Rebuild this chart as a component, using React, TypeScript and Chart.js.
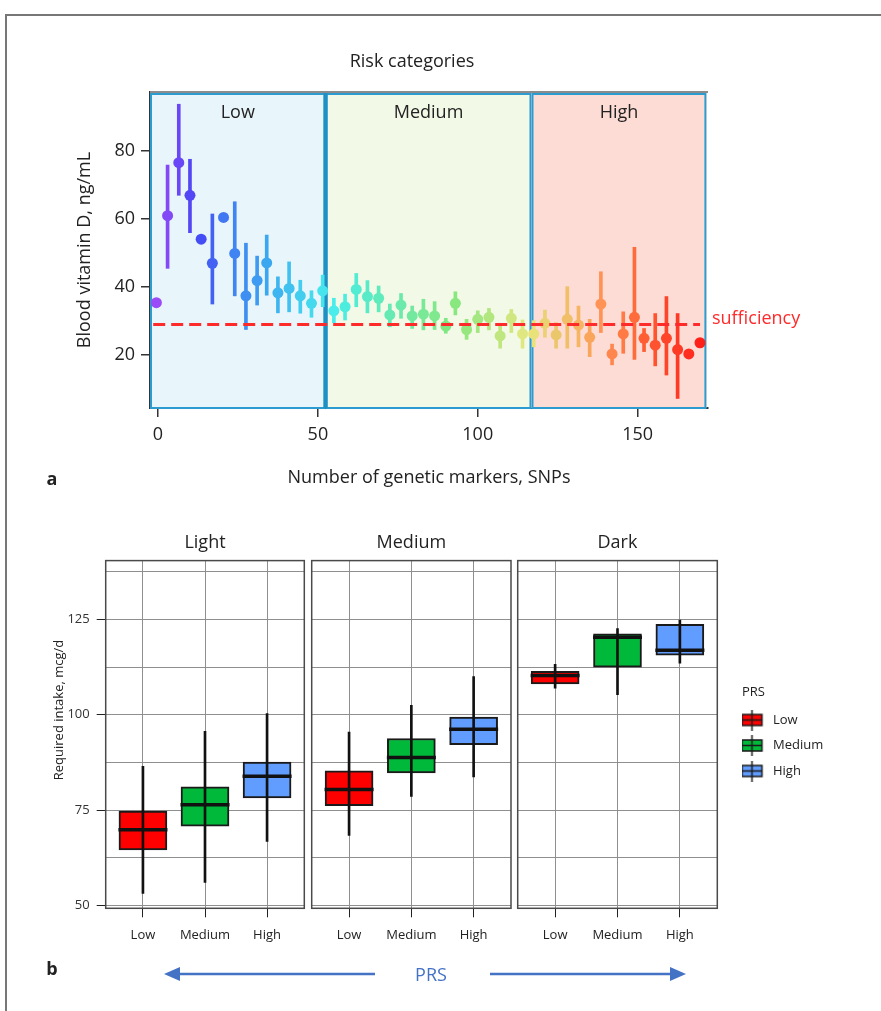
import React, { useEffect, useRef } from "react";
import { Chart, registerables } from "chart.js";
Chart.register(...registerables);

const FONT = "'Open Sans', 'Noto Sans', 'DejaVu Sans', sans-serif";
const TEXT = "#222222";

// ---------------- Panel a data ----------------
const SNP_COUNT = [
  -0.5, 3, 6.5, 10, 13.5, 17, 20.5, 24, 27.5, 31, 34, 37.5, 41, 44.5, 48, 51.5, 55, 58.5, 62, 65.5,
  69, 72.5, 76, 79.5, 83, 86.5, 90, 93, 96.5, 100, 103.5, 107, 110.5, 114, 117.5, 121, 124.5, 128,
  131.5, 135, 138.5, 142, 145.5, 149, 152, 155.5, 159, 162.5, 166, 169.5,
];
const VITD_MEAN = [
  35.4, 61.0, 76.6, 67.0, 54.1, 47.0, 60.5, 49.9, 37.4, 41.9, 47.1, 38.3, 39.6, 37.4, 35.2, 38.9,
  33.0, 34.2, 39.3, 37.2, 36.7, 31.8, 34.7, 31.5, 32.0, 31.5, 28.5, 35.2, 27.5, 30.5, 31.1, 25.6,
  30.8, 26.2, 26.2, 29.3, 25.9, 30.5, 28.8, 25.2, 35.0, 20.3, 26.2, 31.1, 24.9, 22.9, 24.9, 21.6,
  20.3, 23.6,
];
const VITD_LOW: (number | null)[] = [
  null, 45.5, 67.0, 56.0, null, 35.0, null, 37.4, 27.5, 34.7, 37.6, 32.4, 32.7, 32.3, 31.1, 34.2,
  29.5, 30.3, 34.2, 32.4, 32.7, 28.3, 30.8, 27.8, 27.4, 27.5, 26.4, 31.8, 24.6, 26.6, 27.4, 22.0,
  26.6, 22.0, 22.4, 25.2, 22.0, 22.0, 22.4, 19.5, 26.6, 17.1, 20.5, 18.7, 21.0, 16.8, 14.1, 7.2,
  null, null,
];
const VITD_HIGH: (number | null)[] = [
  null, 75.9, 93.8, 77.6, null, 61.5, null, 65.1, 52.9, 49.1, 55.3, 43.0, 47.4, 42.0, 38.9, 43.5,
  36.7, 37.9, 44.0, 41.9, 40.3, 35.0, 38.1, 34.4, 36.4, 35.7, 30.8, 38.6, 30.5, 33.0, 33.7, 28.5,
  33.4, 30.3, 30.1, 33.2, 29.5, 40.1, 34.4, 30.5, 44.5, 23.2, 32.7, 51.7, 27.8, 32.2, 37.2, 32.2,
  null, null,
];
const X_TICKS_A = [0, 50, 100, 150];
const Y_TICKS_A = [20, 40, 60, 80];
const SUFFICIENCY = 29;
const SUFF_SPAN = [-1.5, 169.5];
const RISK_NAMES = ["Low", "Medium", "High"];
const RISK_START = [-2.5, 52.4, 116.8];
const RISK_END = [52.4, 116.8, 171.5];

// ---------------- Panel b data ----------------
const SKIN = ["Light", "Medium", "Dark"];
const PRS = ["Low", "Medium", "High"];
const PRS_POS = [1, 2, 3];
const LIGHT_MIN = [53.2, 56.1, 66.8];
const LIGHT_Q1 = [64.6, 70.8, 78.2];
const LIGHT_MED = [69.9, 76.4, 83.9];
const LIGHT_Q3 = [74.8, 81.1, 87.6];
const LIGHT_MAX = [86.5, 95.7, 100.3];
const MEDIUM_MIN = [68.4, 78.6, 83.7];
const MEDIUM_Q1 = [76.2, 84.8, 92.2];
const MEDIUM_MED = [80.4, 88.8, 96.2];
const MEDIUM_Q3 = [85.3, 93.8, 99.4];
const MEDIUM_MAX = [95.5, 102.5, 110.0];
const DARK_MIN = [107.0, 105.3, 113.5];
const DARK_Q1 = [108.1, 112.5, 115.6];
const DARK_MED = [110.3, 120.3, 116.9];
const DARK_Q3 = [111.4, 121.2, 123.7];
const DARK_MAX = [113.2, 122.6, 124.8];
const B_Y_GRID = [50, 62.5, 75, 87.5, 100, 112.5, 125, 137.5];
const B_Y_LABELS = [50, 75, 100, 125];

// ---------------- styles ----------------
const PRS_COLORS = ["#ff0000", "#00b93a", "#619cff"];
const RISK_FILL = ["#e8f6fb", "#f2f9e6", "#fcdcd4"];
const RISK_BORDER = "#2c9bd0";
const HUE_IDX = [0, 2, 6, 12, 17, 22, 26, 31, 35, 38, 40, 43, 46, 49];
const HUE_VAL = [268, 252, 222, 196, 175, 150, 122, 82, 48, 34, 22, 15, 8, 2];
const SAT_IDX = [0, 10, 17, 25, 33, 38, 44, 49];
const SAT_VAL = [0.7, 0.75, 0.68, 0.45, 0.45, 0.6, 0.8, 0.9];
const VAL_IDX = [0, 20, 30, 36, 40, 49];
const VAL_VAL = [0.97, 0.92, 0.9, 0.92, 1, 1];

function interp(idx: number[], vals: number[], i: number) {
  if (i <= idx[0]) return vals[0];
  for (let k = 1; k < idx.length; k++) {
    if (i <= idx[k]) {
      const t = (i - idx[k - 1]) / (idx[k] - idx[k - 1]);
      return vals[k - 1] + t * (vals[k] - vals[k - 1]);
    }
  }
  return vals[vals.length - 1];
}
function hsv(h: number, s: number, v: number) {
  const f = (n: number) => {
    const k = (n + h / 60) % 6;
    return v - v * s * Math.max(0, Math.min(k, 4 - k, 1));
  };
  return [f(5), f(3), f(1)].map((c) => Math.round(c * 255));
}
function pointColor(i: number) {
  const [r, g, b] = hsv(interp(HUE_IDX, HUE_VAL, i), interp(SAT_IDX, SAT_VAL, i), interp(VAL_IDX, VAL_VAL, i));
  return `rgb(${r},${g},${b})`;
}

function useChart(ref: React.RefObject<HTMLCanvasElement | null>, make: () => any) {
  useEffect(() => {
    const chart = new Chart(ref.current as HTMLCanvasElement, make());
    return () => chart.destroy();
  }, []);
}

// ---------------- Panel a ----------------
const riskPlugin = {
  id: "riskRegions",
  beforeDatasetsDraw(chart: any) {
    const { ctx, chartArea: a, scales } = chart;
    const x = scales.x;
    ctx.save();
    RISK_NAMES.forEach((name, i) => {
      const x0 = Math.max(a.left, x.getPixelForValue(RISK_START[i]));
      const x1 = Math.min(a.right, x.getPixelForValue(RISK_END[i]));
      ctx.fillStyle = RISK_FILL[i];
      ctx.fillRect(x0, a.top, x1 - x0, a.bottom - a.top);
      ctx.strokeStyle = RISK_BORDER;
      ctx.lineWidth = 2;
      ctx.strokeRect(x0 + 1, a.top + 2, x1 - x0 - 2, a.bottom - a.top - 2);
      ctx.fillStyle = TEXT;
      ctx.font = `18px ${FONT}`;
      ctx.textAlign = "center";
      ctx.textBaseline = "middle";
      ctx.fillText(name, (x0 + x1) / 2, a.top + 21);
    });
    const xd = x.getPixelForValue(RISK_END[0]);
    ctx.strokeStyle = "#1e90c4";
    ctx.lineWidth = 4;
    ctx.beginPath();
    ctx.moveTo(xd, a.top);
    ctx.lineTo(xd, a.bottom);
    ctx.stroke();
    ctx.strokeStyle = "#8c8c8c";
    ctx.lineWidth = 2;
    ctx.beginPath();
    ctx.moveTo(a.left, a.top);
    ctx.lineTo(a.right, a.top);
    ctx.stroke();
    ctx.restore();
  },
  afterDatasetsDraw(chart: any) {
    const { ctx, chartArea: a, scales } = chart;
    ctx.save();
    ctx.fillStyle = "#ff2a2a";
    ctx.font = `18px ${FONT}`;
    ctx.textAlign = "left";
    ctx.textBaseline = "middle";
    ctx.fillText("sufficiency", a.right + 4, scales.y.getPixelForValue(SUFFICIENCY) - 6);
    ctx.restore();
  },
};

function PanelA() {
  const ref = useRef<HTMLCanvasElement>(null);
  useChart(ref, () => {
    const colors = SNP_COUNT.map((_, i) => pointColor(i));
    const barIdx = SNP_COUNT.map((_, i) => i).filter((i) => VITD_LOW[i] != null);
    return {
      type: "scatter",
      data: {
        datasets: [
          {
            type: "line",
            data: SUFF_SPAN.map((x) => ({ x, y: SUFFICIENCY })),
            borderColor: "#ff2a2a",
            borderWidth: 3,
            borderDash: [12, 6],
            pointRadius: 0,
            order: 0,
          },
          {
            type: "scatter",
            data: SNP_COUNT.map((x, i) => ({ x, y: VITD_MEAN[i] })),
            pointBackgroundColor: colors,
            pointBorderWidth: 0,
            pointRadius: 5.5,
            order: 1,
          },
          {
            type: "bar",
            data: barIdx.map((i) => ({ x: SNP_COUNT[i], y: [VITD_LOW[i], VITD_HIGH[i]] })),
            backgroundColor: barIdx.map((i) => colors[i]),
            barThickness: 3,
            grouped: false,
            order: 2,
          },
        ],
      },
      options: {
        responsive: false,
        animation: false,
        layout: { autoPadding: false, padding: { top: 51, left: 0, right: 0, bottom: 0 } },
        plugins: {
          legend: { display: false },
          tooltip: { enabled: false },
          title: {
            display: true,
            text: "Risk categories",
            color: TEXT,
            font: { family: FONT, size: 18, weight: "normal" },
            padding: { top: 0, bottom: 19.4 },
          },
        },
        scales: {
          x: {
            type: "linear",
            min: -2.5,
            max: 172,
            offset: false,
            z: 1,
            afterBuildTicks: (s: any) => {
              s.ticks = X_TICKS_A.map((v) => ({ value: v }));
            },
            afterFit: (s: any) => {
              s.height = 92;
              s.paddingLeft = 0;
              s.paddingRight = 0;
            },
            ticks: { color: TEXT, font: { family: FONT, size: 18 }, padding: 7 },
            grid: { drawOnChartArea: false, tickLength: 9, color: "#333", lineWidth: 1.5, offset: false },
            border: { color: "#333", width: 2 },
            title: {
              display: true,
              text: "Number of genetic markers, SNPs",
              color: TEXT,
              font: { family: FONT, size: 18 },
              padding: { top: 10, bottom: 11 },
            },
          },
          y: {
            type: "linear",
            min: 4.4,
            max: 97.4,
            z: 1,
            afterBuildTicks: (s: any) => {
              s.ticks = Y_TICKS_A.map((v) => ({ value: v }));
            },
            afterFit: (s: any) => {
              s.width = 150;
            },
            ticks: { color: TEXT, font: { family: FONT, size: 18 }, padding: 6 },
            grid: { drawOnChartArea: false, tickLength: 9, color: "#333", lineWidth: 1.5 },
            border: { color: "#333", width: 2 },
            title: {
              display: true,
              text: "Blood vitamin D, ng/mL",
              color: TEXT,
              font: { family: FONT, size: 18 },
              padding: { top: 74, bottom: 0 },
            },
          },
          gutter: {
            type: "linear",
            position: "right",
            display: true,
            min: 0,
            max: 1,
            ticks: { display: false },
            grid: { display: false },
            border: { display: false },
            afterFit: (s: any) => {
              s.width = 116;
            },
          },
        },
      },
      plugins: [riskPlugin],
    };
  });
  return <canvas ref={ref} width={824} height={500} style={{ position: "absolute", left: 0, top: 0 }} />;
}

// ---------------- Panel b ----------------
const framePlugin = {
  id: "panelFrame",
  afterDraw(chart: any) {
    const { ctx, chartArea: a } = chart;
    ctx.save();
    ctx.strokeStyle = "#4a4a4a";
    ctx.lineWidth = 1.5;
    ctx.strokeRect(a.left, a.top, a.right - a.left, a.bottom - a.top);
    ctx.restore();
  },
};

function legendIcon(color: string) {
  const c = document.createElement("canvas");
  c.width = 40;
  c.height = 21;
  const g = c.getContext("2d") as CanvasRenderingContext2D;
  const x0 = 1.5;
  g.fillStyle = color;
  g.fillRect(x0, 5, 20, 11);
  g.strokeStyle = "#1a1a1a";
  g.lineWidth = 1.5;
  g.strokeRect(x0, 5, 20, 11);
  g.beginPath();
  g.moveTo(x0, 10.5);
  g.lineTo(x0 + 20, 10.5);
  g.moveTo(x0 + 10, 0);
  g.lineTo(x0 + 10, 21);
  g.stroke();
  return c;
}

type PanelProps = {
  index: number;
  left: number;
  width: number;
  pad: { left: number; right: number };
  yWidth: number;
  lo: number[];
  q1: number[];
  med: number[];
  q3: number[];
  hi: number[];
};

function BoxPanel(p: PanelProps) {
  const ref = useRef<HTMLCanvasElement>(null);
  const showY = p.index === 0;
  const showLegend = p.index === 2;
  useChart(ref, () => {
    const scales: any = {
      x: {
        type: "linear",
        min: 0.4,
        max: 3.6,
        offset: false,
        afterBuildTicks: (s: any) => {
          s.ticks = PRS_POS.map((v) => ({ value: v }));
        },
        afterFit: (s: any) => {
          s.height = 41.7;
          s.paddingLeft = 0;
          s.paddingRight = 0;
        },
        ticks: {
          color: TEXT,
          font: { family: FONT, size: 13 },
          padding: 10,
          callback: (_v: any, i: number) => PRS[i],
        },
        grid: { color: "#8f8f8f", lineWidth: 1, tickLength: 9, tickColor: "#222", offset: false },
        border: { display: false },
      },
      y: {
        type: "linear",
        min: 49.3,
        max: 140.4,
        afterBuildTicks: (s: any) => {
          s.ticks = B_Y_GRID.map((v) => ({ value: v }));
        },
        afterFit: (s: any) => {
          s.width = p.yWidth;
          s.paddingTop = 0;
          s.paddingBottom = 0;
        },
        ticks: {
          display: showY,
          color: "#333",
          font: { family: FONT, size: 13 },
          padding: 7,
          callback: (v: any) => (B_Y_LABELS.includes(v) ? String(v) : ""),
        },
        grid: {
          color: "#8f8f8f",
          lineWidth: 1,
          drawTicks: showY,
          tickLength: 9,
          tickColor: (c: any) => (c.tick && B_Y_LABELS.includes(c.tick.value) ? "#222" : "rgba(0,0,0,0)"),
        },
        border: { display: false },
      },
    };
    if (showLegend) {
      scales.gutter = {
        type: "linear",
        position: "right",
        display: true,
        min: 0,
        max: 1,
        ticks: { display: false },
        grid: { display: false },
        border: { display: false },
        afterFit: (s: any) => {
          s.width = 24.7;
        },
      };
    }
    return {
      type: "bar",
      data: {
        datasets: [
          {
            type: "scatter",
            data: PRS_POS.map((x, i) => ({ x, y: p.med[i] })),
            pointStyle: "line",
            pointRadius: 24.5,
            pointBorderColor: "#111",
            pointBorderWidth: 3.5,
            order: 1,
          },
          {
            type: "bar",
            data: PRS_POS.map((x, i) => ({ x, y: [p.lo[i], p.hi[i]] })),
            backgroundColor: "#111",
            barThickness: 2,
            grouped: false,
            order: 2,
          },
          {
            type: "bar",
            data: PRS_POS.map((x, i) => ({ x, y: [p.q1[i], p.q3[i]] })),
            backgroundColor: PRS_COLORS,
            borderColor: "#1a1a1a",
            borderWidth: 2,
            borderSkipped: false,
            barThickness: 48,
            grouped: false,
            order: 3,
          },
        ],
      },
      options: {
        responsive: false,
        animation: false,
        layout: { autoPadding: false, padding: { top: 32, left: p.pad.left, right: p.pad.right, bottom: 0 } },
        plugins: {
          tooltip: { enabled: false },
          title: {
            display: true,
            text: SKIN[p.index],
            fullSize: false,
            color: TEXT,
            font: { family: FONT, size: 18, weight: "normal" },
            padding: { top: 0, bottom: 7 },
          },
          legend: showLegend
            ? {
                display: true,
                position: "right",
                align: "start",
                maxWidth: 84,
                title: {
                  display: true,
                  text: "PRS",
                  position: "start",
                  color: TEXT,
                  font: { family: FONT, size: 13 },
                  padding: { top: 153.4, bottom: 0 },
                },
                labels: {
                  usePointStyle: true,
                  pointStyleWidth: 12,
                  padding: 12.5,
                  color: TEXT,
                  font: { family: FONT, size: 13 },
                  generateLabels: () =>
                    PRS.map((t, i) => ({
                      text: t,
                      pointStyle: legendIcon(PRS_COLORS[i]),
                      fillStyle: PRS_COLORS[i],
                      strokeStyle: "#111",
                      lineWidth: 0,
                      hidden: false,
                      datasetIndex: 0,
                    })),
                },
              }
            : { display: false },
        },
        scales,
      },
      plugins: [framePlugin],
    };
  });
  return (
    <canvas ref={ref} width={p.width} height={450} style={{ position: "absolute", left: p.left, top: 500 }} />
  );
}

export default function App() {
  return (
    <div
      style={{
        position: "absolute",
        left: 0,
        top: 0,
        width: 881,
        height: 1011,
        overflow: "hidden",
        background: "#fff",
        fontFamily: FONT,
      }}
    >
      <div
        style={{
          position: "absolute",
          left: 5,
          top: 14,
          right: 0,
          bottom: 0,
          borderLeft: "2px solid #777",
          borderTop: "2px solid #777",
        }}
      />
      <PanelA />
      <BoxPanel index={0} left={0} width={310} pad={{ left: 0, right: 5.7 }} yWidth={105.7}
        lo={LIGHT_MIN} q1={LIGHT_Q1} med={LIGHT_MED} q3={LIGHT_Q3} hi={LIGHT_MAX} />
      <BoxPanel index={1} left={308} width={206} pad={{ left: 3.7, right: 3 }} yWidth={0}
        lo={MEDIUM_MIN} q1={MEDIUM_Q1} med={MEDIUM_MED} q3={MEDIUM_Q3} hi={MEDIUM_MAX} />
      <BoxPanel index={2} left={514} width={367} pad={{ left: 3.7, right: 55 }} yWidth={0}
        lo={DARK_MIN} q1={DARK_Q1} med={DARK_MED} q3={DARK_Q3} hi={DARK_MAX} />
      <div style={{ position: "absolute", left: 52, top: 478, transform: "translate(-50%,-50%)", fontWeight: "bold", fontSize: 18, color: TEXT }}>a</div>
      <div style={{ position: "absolute", left: 52, top: 968, transform: "translate(-50%,-50%)", fontWeight: "bold", fontSize: 18, color: TEXT }}>b</div>
      <div
        style={{
          position: "absolute",
          left: 58,
          top: 710,
          transform: "translate(-50%,-50%) rotate(-90deg)",
          fontSize: 13,
          color: TEXT,
          whiteSpace: "nowrap",
        }}
      >
        Required intake, mcg/d
      </div>
      <svg width={881} height={1011} style={{ position: "absolute", left: 0, top: 0, pointerEvents: "none" }}>
        <line x1={375} y1={974} x2={176} y2={974} stroke="#4472c4" strokeWidth={2.5} />
        <polygon points="164,974 180,967 180,981" fill="#4472c4" />
        <line x1={490} y1={974} x2={674} y2={974} stroke="#4472c4" strokeWidth={2.5} />
        <polygon points="686,974 670,967 670,981" fill="#4472c4" />
        <text x={431} y={974} fill="#4472c4" fontSize={18} fontFamily={FONT} textAnchor="middle" dominantBaseline="central">
          PRS
        </text>
      </svg>
    </div>
  );
}
